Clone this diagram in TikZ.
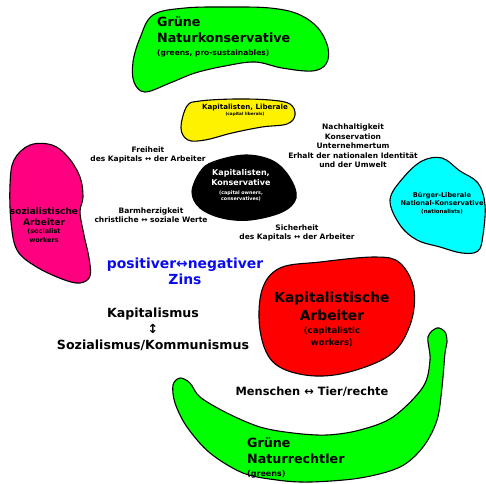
\documentclass[tikz,border=0pt]{standalone}
\usepackage{fontspec}
\setmainfont{DejaVu Sans}
\definecolor{limegreen}{RGB}{0,255,0}
\definecolor{deeppink}{RGB}{255,0,128}
\definecolor{aqua}{RGB}{0,255,255}
\definecolor{zinsblue}{RGB}{10,10,240}

\begin{document}
\begin{tikzpicture}[
  x=1pt, y=-1pt,
  blob/.style = {draw, line width=1.1pt, line join=round},
  txt/.style = {font=\bfseries\fontsize{7.5}{9.5}\selectfont, align=center, inner sep=0pt},
  bigtxt/.style = {font=\bfseries\fontsize{12.7}{16}\selectfont, inner sep=0pt},
  small/.style = {font=\bfseries\fontsize{#1}{#1}\selectfont}
]
  \useasboundingbox (0,0) rectangle (486,483);

  % Blobs
  \draw[blob, fill=limegreen] plot[smooth cycle, tension=0.6] coordinates {
    (153,15) (185,8) (230,7) (270,8) (298,14) (318,28) (328,48) (326,64)
    (312,71) (282,68) (255,62) (225,66) (195,73) (170,83) (145,92) (134,82)
    (133,62) (140,38)};
  \draw[blob, fill=yellow] plot[smooth cycle, tension=0.6] coordinates {
    (187,106) (200,101) (235,99) (270,100) (290,104) (295,115) (287,124)
    (262,127) (232,133) (205,140) (188,140) (181,128)};
  \draw[blob, fill=black] plot[smooth cycle, tension=0.6] coordinates {
    (200,172) (213,162) (245,155) (273,161) (290,178) (296,198) (282,212)
    (250,220) (222,218) (200,208) (192,192)};
  \draw[blob, fill=deeppink] plot[smooth cycle, tension=0.6] coordinates {
    (30,145) (52,145) (68,157) (80,177) (83,197) (80,212) (84,235) (89,258)
    (90,276) (80,283) (62,279) (35,266) (17,250) (11,222) (10,185) (14,160)};
  \draw[blob, fill=aqua] plot[smooth cycle, tension=0.6] coordinates {
    (403,178) (422,161) (442,158) (460,171) (478,183) (485,205) (483,235)
    (478,251) (462,253) (440,247) (417,240) (400,225) (390,200)};
  \draw[blob, fill=red] plot[smooth cycle, tension=0.6] coordinates {
    (262,290) (280,268) (320,262) (375,257) (400,263) (414,290) (410,325)
    (390,355) (345,373) (305,375) (273,362) (260,330)};
  \draw[blob, fill=limegreen] plot[smooth cycle, tension=0.55] coordinates {
    (180,378) (190,383) (200,397) (227,413) (260,427) (293,433) (327,435)
    (360,430) (393,417) (423,387) (430,360) (428,337) (437,328) (445,332)
    (447,342) (445,353) (442,387) (437,420) (423,447) (400,467) (360,478)
    (310,482) (277,480) (243,473) (210,453) (187,427) (175,403) (173,385)};

  % Parties
  \node[bigtxt, align=left, anchor=west] (natkons) at (157,37)
    {Grüne\\Naturkonservative\\[-3pt]{\fontsize{7.5}{9}\selectfont (greens, pro-sustainables)}};
  \node[txt, font=\bfseries\fontsize{7.1}{7}\selectfont] (liberale) at (245,110)
    {Kapitalisten, Liberale\\[-1pt]{\fontsize{4.2}{5}\selectfont (capital liberals)}};
  \node[txt, text=white, font=\bfseries\fontsize{8}{10}\selectfont] (konserv) at (241,185)
    {Kapitalisten,\\Konservative\\[-1pt]{\fontsize{4.8}{5.5}\selectfont (capital owners,}\\[-4pt]
     {\fontsize{4.8}{5.5}\selectfont conservatives)}};
  \node[txt, font=\bfseries\fontsize{6.6}{8.5}\selectfont] (buerger) at (442,203)
    {Bürger-Liberale\\National-Konservative\\[-1pt]{\fontsize{5.5}{6}\selectfont (nationalists)}};
  \node[txt, font=\bfseries\fontsize{9}{11}\selectfont] (sozarb) at (44,225)
    {sozialistische\\Arbeiter\\[-3pt]{\fontsize{6.5}{7}\selectfont (socialist}\\[-2pt]
     {\fontsize{6.5}{7}\selectfont workers}};
  \node[txt, font=\bfseries\fontsize{13.8}{18}\selectfont] (kaparb) at (332,319)
    {Kapitalistische\\Arbeiter\\[-5pt]{\fontsize{8.5}{10}\selectfont (capitalistic}\\[-6pt]
     {\fontsize{8.5}{10}\selectfont workers)}};
  \node[bigtxt, align=left, anchor=west] (naturr) at (247,458)
    {Grüne\\Naturrechtler\\[-3pt]{\fontsize{8}{9}\selectfont (greens)}};

  % Axes
  \node[txt] (freiheit) at (148,155) {Freiheit\\des Kapitals ↔ der Arbeiter};
  \node[txt] (barmherz) at (151,215) {Barmherzigkeit\\christliche ↔ soziale Werte};
  \node[txt] (sicherheit) at (297,233) {Sicherheit\\des Kapitals ↔ der Arbeiter};
  \node[txt] (nachhalt) at (353,146)
    {Nachhaltigkeit\\Konservation\\Unternehmertum\\Erhalt der nationalen Identität\\und der Umwelt};
  \node[txt, text=zinsblue, font=\bfseries\fontsize{13.9}{16}\selectfont] (zins) at (185,271)
    {positiver↔negativer\\Zins};
  \node[txt, font=\bfseries\fontsize{12.6}{16}\selectfont] (ismus) at (153,329)
    {Kapitalismus\\↕\\Sozialismus/Kommunismus};
  \node[txt, font=\bfseries\fontsize{11.4}{14}\selectfont] (tierrecht) at (312,392)
    {Menschen ↔ Tier/rechte};

\end{tikzpicture}
\end{document}
